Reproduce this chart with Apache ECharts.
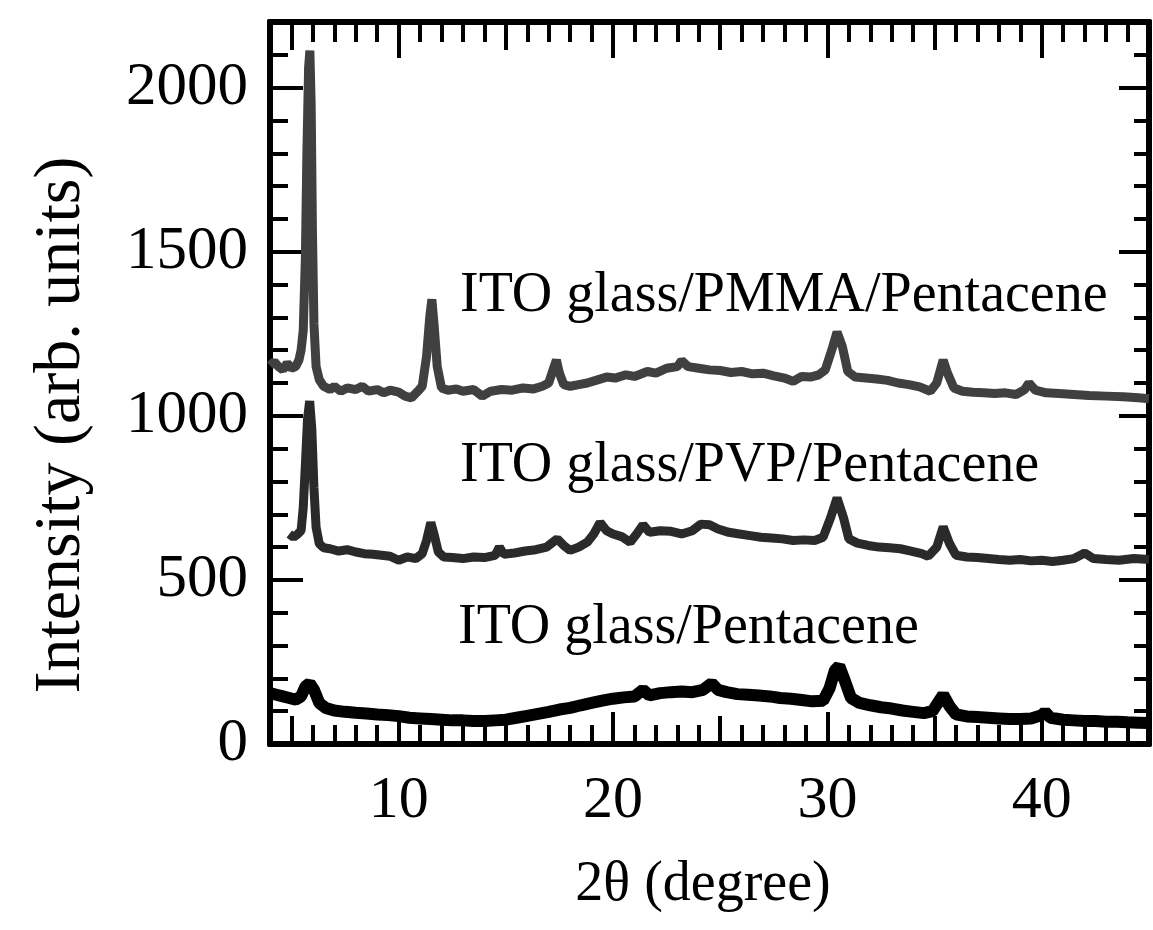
<!DOCTYPE html>
<html>
<head>
<meta charset="utf-8">
<script src="https://cdn.jsdelivr.net/npm/echarts@6/dist/echarts.min.js"></script>
<style>
html,body{margin:0;padding:0;background:#fff;}
#chart{width:1153px;height:930px;}
</style>
</head>
<body>
<div id="chart"></div>
<script>
// ---- data ----
var pmmaX = [4.0,4.2,4.4,4.6,4.8,5.0,5.2,5.35,5.45,5.55,5.65,5.72,5.8,5.86,5.92,5.98,6.05,6.15,6.3,6.5,6.8,7.0,7.3,7.6,8.0,8.3,8.6,9.0,9.3,9.6,10.0,10.3,10.6,10.9,11.1,11.3,11.45,11.55,11.65,11.8,12.0,12.3,12.7,13.0,13.5,13.9,14.3,14.8,15.3,15.8,16.3,16.7,17.0,17.2,17.36,17.5,17.7,18.0,18.4,18.8,19.2,19.7,20.1,20.6,21.0,21.6,22.0,22.5,23.0,23.2,23.5,24.0,24.5,25.0,25.5,26.0,26.5,27.0,27.5,28.0,28.4,28.8,29.2,29.6,29.9,30.2,30.45,30.7,30.95,31.3,31.8,32.3,32.8,33.3,33.8,34.3,34.8,35.1,35.4,35.6,35.9,36.3,36.8,37.3,37.8,38.3,38.8,39.2,39.4,39.7,40.2,40.8,41.5,42.2,43.0,43.8,44.5,45.0];
var pmmaY = [1153,1165,1150,1140,1160,1145,1150,1170,1200,1260,1480,1800,2060,2113,1950,1560,1280,1150,1110,1090,1080,1090,1075,1085,1080,1090,1075,1080,1070,1078,1072,1060,1055,1075,1090,1180,1300,1355,1280,1150,1085,1078,1082,1075,1080,1060,1075,1080,1078,1085,1082,1090,1100,1140,1170,1130,1095,1090,1095,1100,1108,1118,1115,1125,1120,1135,1130,1145,1150,1168,1150,1145,1140,1138,1132,1135,1128,1130,1122,1115,1105,1120,1118,1125,1140,1200,1255,1210,1135,1118,1115,1112,1108,1100,1095,1088,1075,1100,1170,1130,1085,1075,1072,1070,1068,1070,1065,1080,1100,1078,1070,1068,1065,1062,1060,1058,1055,1052];

var pvpX = [4.9,5.1,5.3,5.45,5.55,5.65,5.75,5.85,5.95,6.05,6.15,6.3,6.5,6.8,7.2,7.6,8.0,8.4,8.8,9.2,9.6,10.0,10.4,10.8,11.1,11.3,11.5,11.65,11.85,12.1,12.5,13.0,13.5,14.0,14.5,14.7,14.9,15.4,15.9,16.4,16.9,17.2,17.4,17.7,18.0,18.4,18.8,19.1,19.4,19.7,20.0,20.4,20.8,21.1,21.4,21.7,22.2,22.7,23.2,23.7,24.1,24.5,24.9,25.4,25.9,26.4,26.9,27.4,27.9,28.4,28.9,29.4,29.8,30.15,30.45,30.75,31.0,31.4,31.9,32.4,32.9,33.4,33.9,34.4,34.7,35.1,35.4,35.7,36.0,36.5,37.0,37.5,38.0,38.5,39.0,39.5,40.0,40.5,41.0,41.5,42.0,42.4,43.0,43.6,44.3,45.0];
var pvpY = [640,630,640,650,720,850,990,1045,960,780,660,610,598,595,588,592,585,580,578,575,572,560,570,565,580,620,675,640,585,570,568,565,570,568,575,600,578,582,588,592,600,615,625,605,590,600,615,640,675,650,640,632,615,640,668,645,650,648,640,650,670,668,655,645,640,635,630,628,625,620,622,620,630,690,750,690,625,612,605,600,598,595,588,580,572,600,662,610,575,570,568,565,562,560,562,558,560,556,560,565,582,565,562,560,565,562];

var itoX = [4.0,4.3,4.6,4.9,5.2,5.45,5.65,5.85,6.05,6.3,6.6,7.0,7.5,8.0,8.5,9.0,9.5,10.0,10.5,11.0,11.5,12.0,12.5,13.0,13.5,14.0,14.5,15.0,15.5,16.0,16.5,17.0,17.5,18.0,18.5,19.0,19.5,20.0,20.5,21.0,21.4,21.7,22.2,22.7,23.2,23.7,24.2,24.6,24.9,25.3,25.8,26.3,26.8,27.3,27.8,28.3,28.8,29.3,29.8,30.1,30.35,30.55,30.8,31.1,31.5,32.0,32.5,33.0,33.5,34.0,34.5,34.9,35.2,35.4,35.7,36.0,36.5,37.0,37.5,38.0,38.5,39.0,39.5,40.0,40.15,40.4,41.0,41.5,42.0,42.5,43.0,43.5,44.0,44.5,45.0];
var itoY = [155,150,145,140,135,145,175,185,165,125,110,102,98,95,93,90,88,85,80,78,76,74,72,72,70,70,72,74,80,86,92,98,105,110,118,125,132,138,142,145,165,148,155,158,160,158,165,185,165,158,152,150,148,145,140,138,134,130,132,170,225,238,195,140,125,118,112,108,102,98,94,100,130,150,115,90,84,82,80,78,76,76,78,88,98,80,74,72,70,70,68,68,66,65,64];

var sampleNames = ["ITO glass/PMMA/Pentacene","ITO glass/PVP/Pentacene","ITO glass/Pentacene"];
var xLabelValues = [10,20,30,40];
var xMidValues = [5,15,25,35];
var yLabelValues = [0,500,1000,1500,2000];
var xTitle = "2\u03b8 (degree)";
var yTitle = "Intensity (arb. units)";

function pairs(xs, ys){ var out=[]; for(var i=0;i<xs.length;i++){ out.push([xs[i], ys[i]]); } return out; }
var xMinorValues = []; for (var v=5; v<=44; v++){ if (v%5!==0) xMinorValues.push(v); }
var yMinorValues = []; for (var w=100; w<=2200; w+=100){ if (w%500!==0) yMinorValues.push(w); }

var FONT = '"Liberation Serif", "DejaVu Serif", serif';
var XMIN=4, XMAX=45, YMIN=0, YMAX=2200;
var tickStyle = {color:'#000', width:4};
function plain(v){ return String(v); }

function xAx(pos, vals, len, labels){
  return {
    type:'value', position:pos, min:XMIN, max:XMAX,
    axisLine:{show:true, onZero:false, lineStyle:{color:'#000', width:6}},
    axisTick:{show:true, inside:true, length:len, customValues:vals, lineStyle:tickStyle},
    axisLabel:labels ? {show:true, customValues:vals, formatter:plain, margin:27, fontFamily:FONT, fontSize:60, color:'#000'} : {show:false},
    splitLine:{show:false}
  };
}
function yAx(pos, vals, len, labels){
  return {
    type:'value', position:pos, min:YMIN, max:YMAX,
    axisLine:{show:true, onZero:false, lineStyle:{color:'#000', width:6}},
    axisTick:{show:true, inside:true, length:len, customValues:vals, lineStyle:tickStyle},
    axisLabel:labels ? {show:true, customValues:vals, formatter:plain, margin:22, fontFamily:FONT, fontSize:61, color:'#000'} : {show:false},
    splitLine:{show:false}
  };
}

var chart = echarts.init(document.getElementById('chart'), null, {renderer:'canvas'});
chart.setOption({
  backgroundColor:'#fff',
  animation:false,
  grid:{left:270, right:4, top:22, bottom:186, containLabel:false},
  xAxis:[
    xAx('bottom', xLabelValues, 32, true),
    xAx('bottom', xMidValues, 28, false),
    xAx('bottom', xMinorValues, 19, false),
    xAx('top', xLabelValues, 36, false),
    xAx('top', xMidValues, 28, false),
    xAx('top', xMinorValues, 20, false)
  ],
  yAxis:[
    yAx('left', yLabelValues, 33, true),
    yAx('left', yMinorValues, 18, false),
    yAx('right', yLabelValues, 30, false),
    yAx('right', yMinorValues, 15, false)
  ],
  series:[
    {name:sampleNames[0], type:'line', xAxisIndex:0, yAxisIndex:0, data:pairs(pmmaX,pmmaY), showSymbol:false, smooth:false, lineStyle:{color:'#404040', width:9}, z:3},
    {name:sampleNames[1], type:'line', xAxisIndex:0, yAxisIndex:0, data:pairs(pvpX,pvpY), showSymbol:false, smooth:false, lineStyle:{color:'#2a2a2a', width:9}, z:3},
    {name:sampleNames[2], type:'line', xAxisIndex:0, yAxisIndex:0, data:pairs(itoX,itoY), showSymbol:false, smooth:false, lineStyle:{color:'#000', width:12}, z:3}
  ],
  graphic:[
    {type:'text', left:460, top:268, style:{text:sampleNames[0], font:'56px '+FONT, fill:'#000'}},
    {type:'text', left:460, top:438, style:{text:sampleNames[1], font:'56px '+FONT, fill:'#000'}},
    {type:'text', left:458, top:600, style:{text:sampleNames[2], font:'56px '+FONT, fill:'#000'}},
    {type:'text', x:703, y:885, style:{text:xTitle, font:'56px '+FONT, fill:'#000', textAlign:'center', textVerticalAlign:'middle'}},
    {type:'text', x:62, y:425, rotation:Math.PI/2, style:{text:yTitle, font:'66px '+FONT, fill:'#000', textAlign:'center', textVerticalAlign:'middle'}}
  ]
});
</script>
</body>
</html>
